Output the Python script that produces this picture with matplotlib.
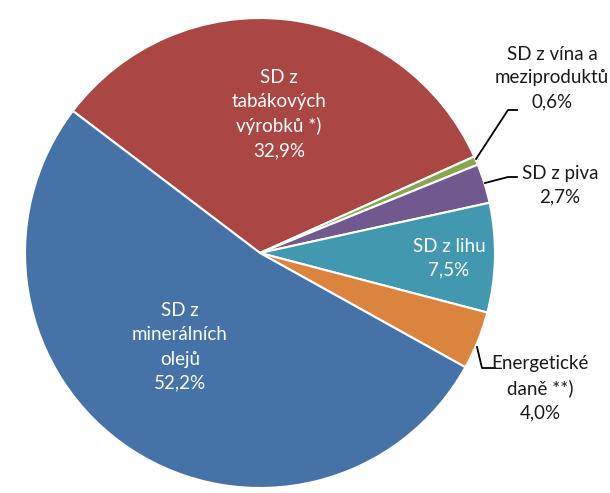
import matplotlib
matplotlib.use("Agg")
import matplotlib.pyplot as plt

# data
labels = ["SD z\ntabákových\nvýrobků *)", "SD z vína a\nmeziproduktů", "SD z piva",
          "SD z lihu", "Energetické\ndaně **)", "SD z\nminerálních\nolejů"]
shares = [32.9, 0.6, 2.7, 7.5, 4.0, 52.2]
colors = ["#AA4643", "#89A54E", "#71588F", "#4198AF", "#DB843D", "#4572A7"]

plt.rcParams['font.family'] = ['Lato', 'DejaVu Sans']

W, H = 610, 493
cx, cy, R = 260, 253, 235

fig = plt.figure(figsize=(W / 100, H / 100), dpi=100)
ax = fig.add_axes([(cx - R) / W, (H - cy - R) / H, 2 * R / W, 2 * R / H])

ax.pie(shares, colors=colors, startangle=142.8, counterclock=False, radius=1,
       wedgeprops=dict(edgecolor="white", linewidth=1.5))
ax.set_xlim(-1, 1)
ax.set_ylim(-1, 1)
ax.set_aspect("equal")
ax.axis("off")


def p(px, py):
    return ((px - cx) / R, (cy - py) / R)


def pct(v):
    return ("%.1f%%" % v).replace(".", ",")


fs = 13.5
ls = 1.5
# inside labels
for i, pos in [(0, (279, 114)), (5, (180, 347)), (3, (449, 258))]:
    txt = labels[i] + "\n" + pct(shares[i])
    ax.text(*p(*pos), txt, ha="center", va="center", color="white",
            fontsize=fs, linespacing=ls)

# outside labels
for i, pos in [(1, (552, 78)), (2, (560, 185)), (4, (540, 388))]:
    txt = labels[i] + "\n" + pct(shares[i])
    ax.text(*p(*pos), txt, ha="center", va="center", color="#1a1a1a",
            fontsize=fs, linespacing=ls, clip_on=False)

# leader lines
leaders = [
    [(476, 159), (508, 110), (517, 110)],
    [(485, 183), (508, 177), (517, 177)],
    [(477, 347), (482, 368), (495, 368)],
]
for pts in leaders:
    xs = [p(*q)[0] for q in pts]
    ys = [p(*q)[1] for q in pts]
    ax.plot(xs, ys, color="black", linewidth=1.3, clip_on=False)

fig.savefig("out.png", dpi=100)
